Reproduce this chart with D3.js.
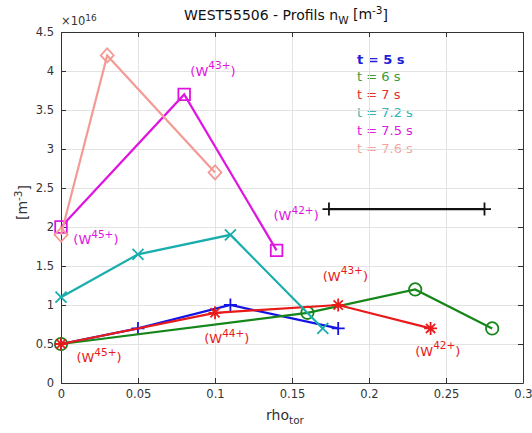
<!DOCTYPE html>
<html>
<head>
<meta charset="utf-8">
<script src="https://cdn.jsdelivr.net/npm/d3@7"></script>
<style>
  body { margin: 0; background: #fff; }
  text { font-family: "DejaVu Sans", sans-serif; }
</style>
</head>
<body>
<div id="figure"></div>
<script>
// values of n_W in units of 1e16 m^-3
var timeLabels = ["t = 5 s", "t = 6 s", "t = 7 s", "t = 7.2 s", "t = 7.5 s", "t = 7.6 s"];
var rho5 = [0, 0.05, 0.11, 0.18],     nw5 = [0.5, 0.7, 1.0, 0.7];
var rho6 = [0, 0.16, 0.23, 0.28],     nw6 = [0.5, 0.9, 1.2, 0.7];
var rho7 = [0, 0.1, 0.18, 0.24],      nw7 = [0.5, 0.9, 1.0, 0.7];
var rho72 = [0, 0.05, 0.11, 0.17],    nw72 = [1.1, 1.65, 1.9, 0.7];
var rho75 = [0, 0.08, 0.14],          nw75 = [2.0, 3.7, 1.7];
var rho76 = [0, 0.03, 0.1],           nw76 = [1.9, 4.2, 2.7];

// horizontal bar (black)
var barRho = [0.174, 0.275];
var barNw = 2.23;

// ion labels: text, rho, n_W, series index
var ionLabels = [
    ["43+", 0.084, 4.0, 4],
    ["45+", 0.008, 1.84, 4],
    ["42+", 0.138, 2.15, 4],
    ["43+", 0.17, 1.37, 2],
    ["44+", 0.093, 0.57, 2],
    ["45+", 0.01, 0.33, 2],
    ["42+", 0.23, 0.41, 2]
];

var xTicks = [0, 0.05, 0.1, 0.15, 0.2, 0.25, 0.3];
var yTicks = [0, 0.5, 1, 1.5, 2, 2.5, 3, 3.5, 4, 4.5];

var series = [
    { rho: rho5, nw: nw5, color: "#1414e6", marker: "plus" },
    { rho: rho6, nw: nw6, color: "#16861a", marker: "circle" },
    { rho: rho7, nw: nw7, color: "#e81a1a", marker: "star" },
    { rho: rho72, nw: nw72, color: "#19adad", marker: "x" },
    { rho: rho75, nw: nw75, color: "#e014e0", marker: "square" },
    { rho: rho76, nw: nw76, color: "#f49a94", marker: "diamond" }
];
var legendColors = ["#2020d8", "#3c9a3c", "#e43030", "#30b4b4", "#e020e0", "#f4a4a0"];

var W = 532, H = 433;
var pL = 61, pR = 523, pT = 32, pB = 383;

var svg = d3.select("#figure").append("svg")
    .attr("width", W).attr("height", H);

var x = d3.scaleLinear().domain([0, 0.3]).range([pL, pR]);
var y = d3.scaleLinear().domain([0, 4.5]).range([pB, pT]);

// legend text (sits under the grid like the original)
var legend = svg.append("g");
timeLabels.forEach(function (t, i) {
    legend.append("text")
        .attr("x", 357).attr("y", 59 + i * 17.9)
        .attr("dy", "0.35em")
        .attr("font-size", 13)
        .attr("font-weight", i === 0 ? "bold" : "normal")
        .attr("fill", legendColors[i])
        .text(t);
});

// grid
svg.append("g")
    .attr("transform", "translate(0," + pB + ")")
    .call(d3.axisBottom(x).tickValues(xTicks).tickSize(-(pB - pT)).tickFormat(""))
    .call(function (g) {
        g.select(".domain").remove();
        g.selectAll("line").attr("stroke", "#e3e3e3");
    });
svg.append("g")
    .attr("transform", "translate(" + pL + ",0)")
    .call(d3.axisLeft(y).tickValues(yTicks).tickSize(-(pR - pL)).tickFormat(""))
    .call(function (g) {
        g.select(".domain").remove();
        g.selectAll("line").attr("stroke", "#e3e3e3");
    });

// axes with inward ticks
var axisColor = "#333";
function styleAxis(g) {
    g.select(".domain").attr("stroke", axisColor);
    g.selectAll(".tick line").attr("stroke", axisColor);
    g.selectAll("text").attr("fill", axisColor).attr("font-size", 11.5)
        .attr("font-family", "DejaVu Sans");
}
svg.append("g")
    .attr("transform", "translate(0," + pB + ")")
    .call(d3.axisBottom(x).tickValues(xTicks).tickSizeInner(-5).tickSizeOuter(0).tickPadding(7)
        .tickFormat(function (d) { return String(+d.toFixed(2)); }))
    .call(styleAxis);
svg.append("g")
    .attr("transform", "translate(0," + pT + ")")
    .call(d3.axisTop(x).tickValues(xTicks).tickSizeInner(-5).tickSizeOuter(0).tickFormat(""))
    .call(styleAxis);
svg.append("g")
    .attr("transform", "translate(" + pL + ",0)")
    .call(d3.axisLeft(y).tickValues(yTicks).tickSizeInner(-5).tickSizeOuter(0).tickPadding(7)
        .tickFormat(function (d) { return String(d); }))
    .call(styleAxis);
svg.append("g")
    .attr("transform", "translate(" + pR + ",0)")
    .call(d3.axisRight(y).tickValues(yTicks).tickSizeInner(-5).tickSizeOuter(0).tickFormat(""))
    .call(styleAxis);

// marker shapes
function markerPath(type) {
    var p = d3.path();
    if (type === "plus") {
        p.moveTo(-6.5, 0); p.lineTo(6.5, 0); p.moveTo(0, -6.5); p.lineTo(0, 6.5);
    } else if (type === "x") {
        p.moveTo(-5.5, -5.5); p.lineTo(5.5, 5.5); p.moveTo(-5.5, 5.5); p.lineTo(5.5, -5.5);
    } else if (type === "star") {
        p.moveTo(-6.5, 0); p.lineTo(6.5, 0); p.moveTo(0, -6.5); p.lineTo(0, 6.5);
        p.moveTo(-4.6, -4.6); p.lineTo(4.6, 4.6); p.moveTo(-4.6, 4.6); p.lineTo(4.6, -4.6);
    } else if (type === "circle") {
        p.arc(0, 0, 6.2, 0, 2 * Math.PI);
    } else if (type === "square") {
        p.rect(-5.8, -5.8, 11.6, 11.6);
    } else if (type === "diamond") {
        p.moveTo(0, -7); p.lineTo(6.5, 0); p.lineTo(0, 7); p.lineTo(-6.5, 0); p.closePath();
    }
    return p.toString();
}

var line = d3.line()
    .x(function (d) { return x(d[0]); })
    .y(function (d) { return y(d[1]); });

series.forEach(function (s) {
    var pts = s.rho.map(function (r, i) { return [r, s.nw[i]]; });
    var g = svg.append("g");
    g.append("path")
        .attr("d", line(pts))
        .attr("fill", "none")
        .attr("stroke", s.color)
        .attr("stroke-width", 2.2);
    g.selectAll(".m").data(pts).enter().append("path")
        .attr("transform", function (d) { return "translate(" + x(d[0]) + "," + y(d[1]) + ")"; })
        .attr("d", markerPath(s.marker))
        .attr("fill", "none")
        .attr("stroke", s.color)
        .attr("stroke-width", 1.8);
});

// black bar
var bar = barRho.map(function (r) { return [r, barNw]; });
svg.append("path").attr("d", line(bar))
    .attr("fill", "none").attr("stroke", "#111").attr("stroke-width", 2.2);
svg.selectAll(".barEnd").data(bar).enter().append("path")
    .attr("transform", function (d) { return "translate(" + x(d[0]) + "," + y(d[1]) + ")"; })
    .attr("d", markerPath("plus"))
    .attr("fill", "none").attr("stroke", "#111").attr("stroke-width", 1.8);

// ion labels
ionLabels.forEach(function (l) {
    var t = svg.append("text")
        .attr("x", x(l[1])).attr("y", y(l[2]))
        .attr("dy", "0.35em")
        .attr("font-size", 13)
        .attr("fill", series[l[3]].color);
    t.append("tspan").text("(W");
    t.append("tspan").attr("font-size", 10.5).attr("dy", "-0.6em").text(l[0]);
    t.append("tspan").attr("dy", "0.5em").text(")");
});

// title
var title = svg.append("text")
    .attr("x", (pL + pR) / 2 - 6).attr("y", 20)
    .attr("text-anchor", "middle")
    .attr("font-size", 14)
    .attr("fill", "#111");
title.append("tspan").text("WEST55506 - Profils n");
title.append("tspan").attr("font-size", 10.5).attr("dy", "0.35em").text("W");
title.append("tspan").attr("dy", "-0.35em").text(" [m");
title.append("tspan").attr("font-size", 10.5).attr("dy", "-0.45em").text("-3");
title.append("tspan").attr("dy", "0.45em").text("]");

// exponent
var expo = svg.append("text")
    .attr("x", pL).attr("y", 25)
    .attr("font-size", 11.5)
    .attr("fill", axisColor);
expo.append("tspan").text("\u00d710");
expo.append("tspan").attr("font-size", 9).attr("dy", "-0.5em").text("16");

// axis labels
var xl = svg.append("text")
    .attr("x", (pL + pR) / 2 - 7).attr("y", 420)
    .attr("text-anchor", "middle")
    .attr("font-size", 14)
    .attr("fill", axisColor);
xl.append("tspan").text("rho");
xl.append("tspan").attr("font-size", 10.5).attr("dy", "0.4em").text("tor");

var yl = svg.append("text")
    .attr("transform", "translate(27," + ((pT + pB) / 2 - 5) + ") rotate(-90)")
    .attr("text-anchor", "middle")
    .attr("font-size", 14)
    .attr("fill", axisColor);
yl.append("tspan").text("[m");
yl.append("tspan").attr("font-size", 10.5).attr("dy", "-0.45em").text("-3");
yl.append("tspan").attr("dy", "0.45em").text("]");
</script>
</body>
</html>
